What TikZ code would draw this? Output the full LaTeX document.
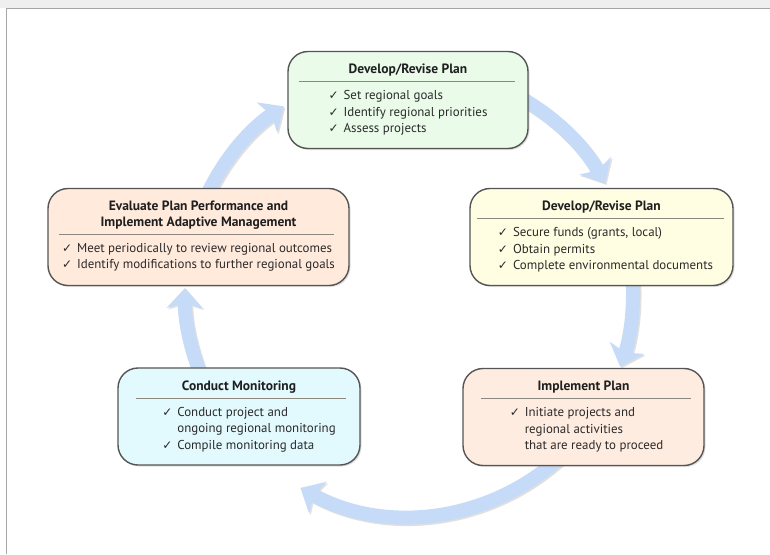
\documentclass[tikz,border=0pt]{standalone}
\usepackage{fontspec}
\setmainfont{PT Sans}
\newfontfamily\checkfont{DejaVu Sans}
\usetikzlibrary{positioning, shadows, arrows.meta}

\definecolor{boxedge}{HTML}{555555}
\definecolor{rulegray}{HTML}{8C8880}
\definecolor{loopblue}{HTML}{C6DBF8}
\definecolor{planfill}{HTML}{EAFBEA}
\definecolor{fundfill}{HTML}{FFFDE2}
\definecolor{implfill}{HTML}{FFECE0}
\definecolor{monfill}{HTML}{E2F9FD}
\definecolor{evalfill}{HTML}{FFEADC}
\definecolor{textgray}{HTML}{2A2A2A}

\newcommand{\chk}{{\checkfont\fontsize{12}{12}\selectfont ✓}}

\tikzset{
  stage/.style={draw=boxedge, line width=1.4pt, rounded corners=20pt,
    minimum height=97pt, drop shadow={opacity=0.25, shadow xshift=1.5pt, shadow yshift=-1.5pt}},
  headline/.style={inner sep=0pt, font=\bfseries\fontsize{13.5}{15.5}\selectfont, text=black!88, align=center},
  titlerule/.style={draw=rulegray, line width=0.8pt},
  checklist/.style={inner sep=0pt, font=\fontsize{12.9}{16.5}\selectfont, text=textgray},
  cyclearrow/.style={draw=loopblue, line width=14pt, -{Stealth[length=20pt, width=36pt, inset=5pt]}}
}

\begin{document}
\begin{tikzpicture}[x=1pt, y=-1pt]
    \useasboundingbox (0,0) rectangle (770,554);
    % window frame
    \fill[blue!4!gray!12] (0,0) rectangle (770,8);
    \draw[gray!70, line width=1pt] (6,554) -- (6,8.5) -- (770,8.5);

    % the cycle arrows, behind the boxes
    \coordinate (hub) at (409,292);
    \foreach \from/\to in {-65/-29, -5/19.5, 45/119, 155/181, 198/236} {
        \draw[cyclearrow, draw=black!12, transform canvas={shift={(1.5pt,-1.5pt)}}]
            (hub) ++(\from:224) arc[start angle=\from, end angle=\to, radius=224];
        \draw[cyclearrow] (hub) ++(\from:224) arc[start angle=\from, end angle=\to, radius=224];
    }

    % develop / revise plan
    \node[stage, minimum width=240pt, fill=planfill] (plan) at (408,100) {};
    \node[headline, below=13pt of plan.north] (planHead) {Develop/Revise Plan};
    \coordinate[below=5pt of planHead.south] (planRule);
    \draw[titlerule] ([xshift=12pt]plan.west |- planRule) -- ([xshift=-14pt]plan.east |- planRule);
    \node[checklist, below=6.5pt of planRule] (planList) {%
        \begin{tabular}{@{}l@{\hspace{5pt}}l@{}}
        \chk & Set regional goals\\
        \chk & Identify regional priorities\\
        \chk & Assess projects
        \end{tabular}};

    % funding
    \node[stage, minimum width=263pt, fill=fundfill] (fund) at (601.5,237) {};
    \node[headline, below=13pt of fund.north] (fundHead) {Develop/Revise Plan};
    \coordinate[below=5pt of fundHead.south] (fundRule);
    \draw[titlerule] ([xshift=8pt]fund.west |- fundRule) -- ([xshift=-10pt]fund.east |- fundRule);
    \node[checklist, below=6.5pt of fundRule, xshift=4pt] (fundList) {%
        \begin{tabular}{@{}l@{\hspace{5pt}}l@{}}
        \chk & Secure funds (grants, local)\\
        \chk & Obtain permits\\
        \chk & Complete environmental documents
        \end{tabular}};

    % implement plan
    \node[stage, minimum width=241pt, fill=implfill] (impl) at (583.5,417) {};
    \node[headline, below=13pt of impl.north] (implHead) {Implement Plan};
    \coordinate[below=5pt of implHead.south] (implRule);
    \draw[titlerule] ([xshift=19pt]impl.west |- implRule) -- ([xshift=-14pt]impl.east |- implRule);
    \node[checklist, below=6.5pt of implRule, xshift=3pt] (implList) {%
        \begin{tabular}{@{}l@{\hspace{5pt}}l@{}}
        \chk & Initiate projects and\\
             & regional activities\\
             & that are ready to proceed
        \end{tabular}};

    % conduct monitoring
    \node[stage, minimum width=242pt, fill=monfill] (mon) at (239,416.5) {};
    \node[headline, below=13pt of mon.north] (monHead) {Conduct Monitoring};
    \coordinate[below=5pt of monHead.south] (monRule);
    \draw[titlerule] ([xshift=19pt]mon.west |- monRule) -- ([xshift=-15pt]mon.east |- monRule);
    \node[checklist, below=6.5pt of monRule, xshift=10pt] (monList) {%
        \begin{tabular}{@{}l@{\hspace{5pt}}l@{}}
        \chk & Conduct project and\\
             & ongoing regional monitoring\\
        \chk & Compile monitoring data
        \end{tabular}};

    % evaluate performance
    \node[stage, minimum width=301pt, fill=evalfill] (eval) at (198.5,237) {};
    \node[headline, below=13pt of eval.north] (evalHead) {Evaluate Plan Performance and\\Implement Adaptive Management};
    \coordinate[below=5pt of evalHead.south] (evalRule);
    \draw[titlerule] ([xshift=12pt]eval.west |- evalRule) -- ([xshift=-16pt]eval.east |- evalRule);
    \node[checklist, below=6.5pt of evalRule] (evalList) {%
        \begin{tabular}{@{}l@{\hspace{5pt}}l@{}}
        \chk & Meet periodically to review regional outcomes\\
        \chk & Identify modifications to further regional goals
        \end{tabular}};
\end{tikzpicture}
\end{document}
